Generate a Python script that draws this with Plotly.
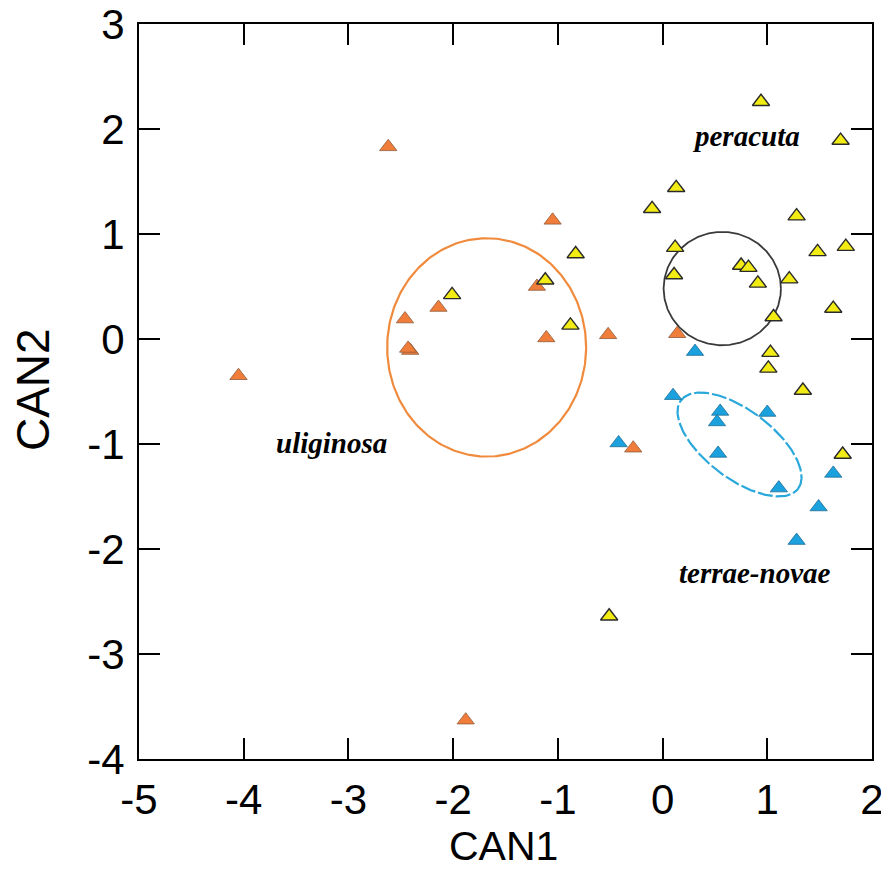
import numpy as np
import plotly.graph_objects as go

# ---- data ----
uli_x = [-2.62, -4.05, -1.05, -1.20, -2.46, -2.14, -2.41, -2.43, -1.11, -0.52, 0.14, -0.28, -1.88]
uli_y = [1.83, -0.35, 1.13, 0.50, 0.19, 0.30, -0.11, -0.09, 0.01, 0.04, 0.05, -1.04, -3.63]

per_x = [0.94, 1.70, 0.13, -0.10, 1.28, 0.12, 1.48, 1.75, 0.75, 0.82, 0.91, 1.21, 0.11,
         1.06, 1.63, -0.83, -2.01, -1.12, -0.88, 1.03, 1.01, 1.34, 1.72, -0.51]
per_y = [2.26, 1.89, 1.44, 1.24, 1.17, 0.87, 0.83, 0.88, 0.70, 0.68, 0.53, 0.57, 0.61,
         0.21, 0.29, 0.81, 0.42, 0.56, 0.13, -0.13, -0.28, -0.49, -1.10, -2.64]

ter_x = [0.31, 0.10, 0.55, 0.52, 1.00, -0.42, 0.53, 1.11, 1.63, 1.49, 1.28]
ter_y = [-0.12, -0.54, -0.69, -0.79, -0.70, -0.99, -1.09, -1.42, -1.28, -1.60, -1.92]

# ellipse parameters: center x, center y, semi-axis a, semi-axis b, rotation (deg)
ell_uli = [-1.68, -0.08, 0.95, 1.04, 0]
ell_per = [0.57, 0.48, 0.56, 0.54, 0]
ell_ter = [0.735, -1.005, 0.70, 0.325, -37]

labels = ["peracuta", "uliginosa", "terrae-novae"]
label_x = [0.80, -3.16, 0.88]
label_y = [1.93, -0.99, -2.23]

x_ticks = [-5, -4, -3, -2, -1, 0, 1, 2]
y_ticks = [-4, -3, -2, -1, 0, 1, 2, 3]

x_title = "CAN1"
y_title = "CAN2"


def ellipse(p, n=300):
    cx, cy, a, b, ang = p
    t = np.linspace(0, 2 * np.pi, n)
    th = np.deg2rad(ang)
    x = cx + a * np.cos(t) * np.cos(th) - b * np.sin(t) * np.sin(th)
    y = cy + a * np.cos(t) * np.sin(th) + b * np.sin(t) * np.cos(th)
    return x, y


fig = go.Figure()

ex, ey = ellipse(ell_uli)
fig.add_trace(go.Scatter(x=ex, y=ey, mode="lines", line=dict(color="#F08A3C", width=2.2),
                         hoverinfo="skip", showlegend=False))
ex, ey = ellipse(ell_per)
fig.add_trace(go.Scatter(x=ex, y=ey, mode="lines", line=dict(color="#3A3A3A", width=1.8),
                         hoverinfo="skip", showlegend=False))
ex, ey = ellipse(ell_ter)
fig.add_trace(go.Scatter(x=ex, y=ey, mode="lines",
                         line=dict(color="#2AA8DC", width=2.2, dash="15px,3px"),
                         hoverinfo="skip", showlegend=False))

fig.add_trace(go.Scatter(x=ter_x, y=ter_y, mode="markers", name="terrae-novae",
                         marker=dict(symbol="triangle-up", size=15, color="#1BA1DE",
                                     line=dict(color="#1F6E96", width=0.8))))
fig.add_trace(go.Scatter(x=uli_x, y=uli_y, mode="markers", name="uliginosa",
                         marker=dict(symbol="triangle-up", size=15, color="#F07D3A",
                                     line=dict(color="#8F5A3A", width=0.8))))
fig.add_trace(go.Scatter(x=per_x, y=per_y, mode="markers", name="peracuta",
                         marker=dict(symbol="triangle-up", size=15, color="#F2EC14",
                                     line=dict(color="#2A2A2A", width=1.4))))

for t, lx, ly in zip(labels, label_x, label_y):
    fig.add_annotation(x=lx, y=ly, text="<b><i>%s</i></b>" % t, showarrow=False,
                       font=dict(family="Liberation Serif, Times New Roman, serif", size=29, color="black"))

# axis titles
fig.add_annotation(x=0.497, y=-0.119, xref="paper", yref="paper", text=x_title, showarrow=False,
                   xanchor="center", yanchor="middle",
                   font=dict(family="Liberation Sans, Arial, sans-serif", size=41, color="black"))
fig.add_annotation(x=-0.1446, y=0.502, xref="paper", yref="paper", text=y_title, showarrow=False,
                   textangle=-90, xanchor="center", yanchor="middle",
                   font=dict(family="Liberation Sans, Arial, sans-serif", size=46, color="black"))

axis_common = dict(showline=True, linecolor="black", linewidth=2, mirror="ticks",
                   ticks="inside", ticklen=21, tickwidth=2, tickcolor="black",
                   showgrid=False, zeroline=False, automargin=False,
                   ticklabeloverflow="allow",
                   tickfont=dict(family="Liberation Sans, Arial, sans-serif", size=42, color="black"))

fig.update_layout(
    width=881, height=861,
    margin=dict(l=131, r=17, t=16, b=110),
    plot_bgcolor="white", paper_bgcolor="white",
    showlegend=False,
    xaxis=dict(range=[-5, 2], tickvals=x_ticks, ticktext=[str(v) for v in x_ticks],
               ticklabelstandoff=3, **axis_common),
    yaxis=dict(range=[-4, 3], tickvals=y_ticks, ticktext=[str(v) for v in y_ticks],
               ticklabelstandoff=4, **axis_common),
)

fig.write_html("out.html")
